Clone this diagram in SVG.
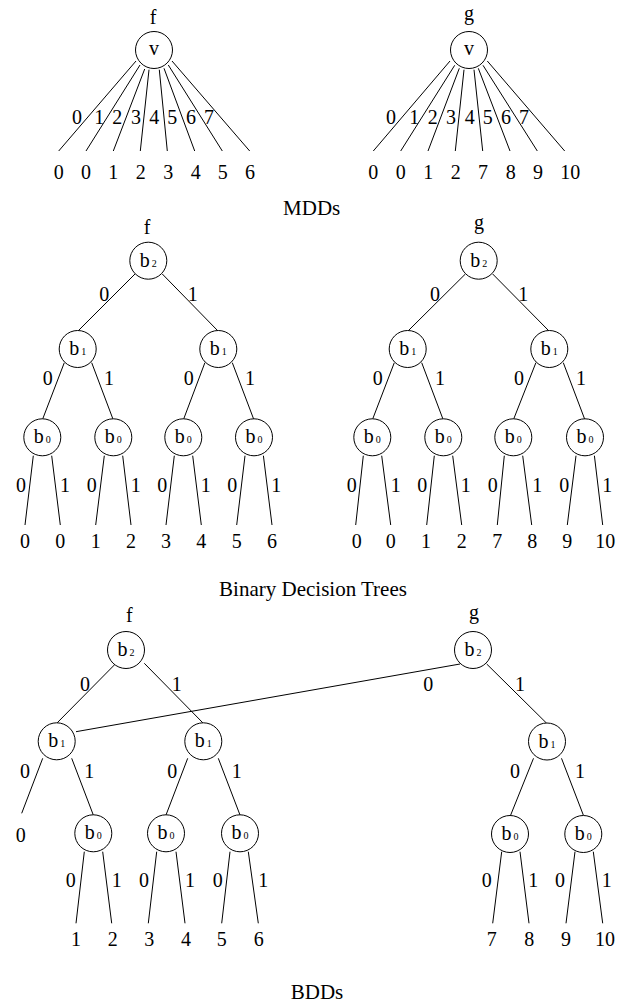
<svg xmlns="http://www.w3.org/2000/svg" width="629" height="1002" viewBox="0 0 629 1002">
<style>
text{font-family:"Liberation Serif","Times New Roman",serif;font-size:20px;fill:#000;text-anchor:middle}
.cap{font-size:21px}
.sub{font-size:10px}
.nd circle{fill:#fff;stroke:#000;stroke-width:1}
#connectors line{stroke:#000;stroke-width:1}
</style>
<rect width="629" height="1002" fill="#fff"/>
<g id="connectors">
<!-- MDD f -->
<line x1="136" y1="61" x2="58.7" y2="151"/>
<line x1="140" y1="65" x2="86" y2="151"/>
<line x1="144.7" y1="69" x2="113.3" y2="151"/>
<line x1="149" y1="69.7" x2="140.3" y2="151"/>
<line x1="159.3" y1="69.7" x2="167.3" y2="151"/>
<line x1="164" y1="68.3" x2="194.7" y2="151"/>
<line x1="168.3" y1="65" x2="222.3" y2="151"/>
<line x1="172" y1="61" x2="249.7" y2="151"/>
<!-- MDD g -->
<line x1="450" y1="61" x2="373.3" y2="151"/>
<line x1="454.7" y1="65.3" x2="400.7" y2="151"/>
<line x1="459.3" y1="68.3" x2="428" y2="151"/>
<line x1="464" y1="69.7" x2="455.3" y2="151"/>
<line x1="474" y1="69.7" x2="482.7" y2="151"/>
<line x1="478.3" y1="68.3" x2="510" y2="151"/>
<line x1="483" y1="65.3" x2="537.3" y2="151"/>
<line x1="487.3" y1="61" x2="564.7" y2="151"/>
<!-- BDT f -->
<line x1="135" y1="274" x2="77.7" y2="331.3"/>
<line x1="162.3" y1="274" x2="218.3" y2="331.3"/>
<line x1="64.3" y1="362.7" x2="42.3" y2="420"/>
<line x1="91.7" y1="362.7" x2="113.3" y2="420"/>
<line x1="204.9" y1="362.7" x2="183.3" y2="420"/>
<line x1="232.3" y1="362.7" x2="254" y2="420"/>
<line x1="33.3" y1="455.7" x2="25" y2="525"/>
<line x1="51.7" y1="455.7" x2="60.3" y2="525"/>
<line x1="104.3" y1="455.7" x2="95.7" y2="525"/>
<line x1="122.7" y1="455.7" x2="131" y2="525"/>
<line x1="174.3" y1="455.7" x2="166" y2="525"/>
<line x1="192.7" y1="455.7" x2="201.3" y2="525"/>
<line x1="245" y1="455.7" x2="236.7" y2="525"/>
<line x1="263.4" y1="455.7" x2="272" y2="525"/>
<!-- BDT g -->
<line x1="465.4" y1="274" x2="407.7" y2="331.3"/>
<line x1="492.7" y1="274" x2="549.3" y2="331.3"/>
<line x1="394.3" y1="362.7" x2="372.3" y2="420"/>
<line x1="421.7" y1="362.7" x2="443.3" y2="420"/>
<line x1="535.9" y1="362.7" x2="513.3" y2="420"/>
<line x1="563.3" y1="362.7" x2="585" y2="420"/>
<line x1="363.3" y1="455.7" x2="355.7" y2="525"/>
<line x1="381.7" y1="455.7" x2="390.7" y2="525"/>
<line x1="434.3" y1="455.7" x2="426.7" y2="525"/>
<line x1="452.7" y1="455.7" x2="461.7" y2="525"/>
<line x1="504.3" y1="455.7" x2="497.3" y2="525"/>
<line x1="522.7" y1="455.7" x2="531.7" y2="525"/>
<line x1="576" y1="455.7" x2="567.3" y2="525"/>
<line x1="594.4" y1="455.7" x2="602.7" y2="525"/>
<!-- BDD f -->
<line x1="116" y1="663.3" x2="56.7" y2="723.3"/>
<line x1="144.3" y1="663.3" x2="203.3" y2="723.3"/>
<line x1="42.7" y1="758.3" x2="21.7" y2="813.3"/>
<line x1="71.7" y1="758.3" x2="93.3" y2="815"/>
<line x1="187.7" y1="758.3" x2="166" y2="815"/>
<line x1="218.3" y1="758.3" x2="240" y2="815"/>
<line x1="84.3" y1="851.7" x2="76" y2="923.3"/>
<line x1="102.7" y1="851.7" x2="111.7" y2="923.3"/>
<line x1="156.7" y1="851.7" x2="148.3" y2="923.3"/>
<line x1="176" y1="851.7" x2="185" y2="923.3"/>
<line x1="230" y1="851.7" x2="221.7" y2="923.3"/>
<line x1="248.3" y1="851.7" x2="258.3" y2="923.3"/>
<!-- BDD g -->
<line x1="460" y1="664" x2="76" y2="731.7"/>
<line x1="486.7" y1="664" x2="546.7" y2="723.3"/>
<line x1="533.5" y1="758.3" x2="510.7" y2="815"/>
<line x1="561.5" y1="758.3" x2="583.3" y2="815"/>
<line x1="501.7" y1="851.7" x2="492.7" y2="923.3"/>
<line x1="520" y1="851.7" x2="529" y2="923.3"/>
<line x1="575" y1="851.7" x2="566" y2="923.3"/>
<line x1="593.3" y1="851.7" x2="602.7" y2="923.3"/>
</g>
<g id="edge-labels">
<!-- MDD f -->
<text x="77" y="124">0</text><text x="99.3" y="124">1</text><text x="117.3" y="124">2</text><text x="136" y="124">3</text>
<text x="154.3" y="124">4</text><text x="172.3" y="124">5</text><text x="191" y="124">6</text><text x="209" y="124">7</text>
<!-- MDD g -->
<text x="391" y="124">0</text><text x="414.3" y="124">1</text><text x="432.7" y="124">2</text><text x="451" y="124">3</text>
<text x="469.7" y="124">4</text><text x="487.7" y="124">5</text><text x="506" y="124">6</text><text x="524" y="124">7</text>
<!-- BDT f -->
<text x="104.3" y="300.7">0</text><text x="192.7" y="300.7">1</text>
<text x="47.7" y="385">0</text><text x="109" y="385">1</text><text x="188.7" y="385">0</text><text x="250" y="385">1</text>
<text x="21" y="491.7">0</text><text x="65" y="491.7">1</text><text x="91.7" y="491.7">0</text><text x="135.7" y="491.7">1</text>
<text x="162.3" y="491.7">0</text><text x="205.7" y="491.7">1</text><text x="232.3" y="491.7">0</text><text x="276.3" y="491.7">1</text>
<!-- BDT g -->
<text x="435" y="300.7">0</text><text x="523.3" y="300.7">1</text>
<text x="377.7" y="385">0</text><text x="440" y="385">1</text><text x="519" y="385">0</text><text x="581" y="385">1</text>
<text x="351.7" y="491.7">0</text><text x="395.7" y="491.7">1</text><text x="422.3" y="491.7">0</text><text x="465.7" y="491.7">1</text>
<text x="492.7" y="491.7">0</text><text x="537.3" y="491.7">1</text><text x="564.3" y="491.7">0</text><text x="607.3" y="491.7">1</text>
<!-- BDD f -->
<text x="85" y="691">0</text><text x="176.7" y="691">1</text>
<text x="25" y="777.7">0</text><text x="89.3" y="777.7">1</text><text x="172.3" y="777.7">0</text><text x="236.7" y="777.7">1</text>
<text x="70.7" y="887.3">0</text><text x="116.7" y="887.3">1</text><text x="144" y="887.3">0</text><text x="190" y="887.3">1</text>
<text x="217.7" y="887.3">0</text><text x="263.3" y="887.3">1</text>
<!-- BDD g -->
<text x="428.3" y="691">0</text><text x="520" y="691">1</text>
<text x="515" y="777.7">0</text><text x="580" y="777.7">1</text>
<text x="486.7" y="887.3">0</text><text x="533.3" y="887.3">1</text><text x="560" y="887.3">0</text><text x="606.7" y="887.3">1</text>
</g>
<!-- MDD nodes -->
<g id="mdd-f-v" class="nd"><circle cx="154" cy="50" r="18.5"/><text x="154" y="55">v</text></g>
<g id="mdd-g-v" class="nd"><circle cx="469" cy="50" r="18.5"/><text x="469" y="55">v</text></g>
<g id="mdd-f-leaves">
<text x="58.7" y="179.3">0</text><text x="86" y="179.3">0</text><text x="113.3" y="179.3">1</text><text x="140.7" y="179.3">2</text>
<text x="168.3" y="179.3">3</text><text x="195.7" y="179.3">4</text><text x="222.7" y="179.3">5</text><text x="250" y="179.3">6</text>
</g>
<g id="mdd-g-leaves">
<text x="373.3" y="179.3">0</text><text x="400.7" y="179.3">0</text><text x="428.3" y="179.3">1</text><text x="455.7" y="179.3">2</text>
<text x="483" y="179.3">7</text><text x="510.7" y="179.3">8</text><text x="538" y="179.3">9</text><text x="570.3" y="179.3">10</text>
</g>
<!-- BDT nodes -->
<g id="bdt-f-b2" class="nd"><circle cx="148.3" cy="260.7" r="18.5"/><text x="148.3" y="266.7">b<tspan class="sub" dx="2">2</tspan></text></g>
<g id="bdt-f-b1a" class="nd"><circle cx="77.7" cy="349" r="18.5"/><text x="77.7" y="355">b<tspan class="sub" dx="2">1</tspan></text></g>
<g id="bdt-f-b1b" class="nd"><circle cx="218.3" cy="349" r="18.5"/><text x="218.3" y="355">b<tspan class="sub" dx="2">1</tspan></text></g>
<g id="bdt-f-b0a" class="nd"><circle cx="42.3" cy="437.3" r="18.5"/><text x="42.3" y="443.3">b<tspan class="sub" dx="2">0</tspan></text></g>
<g id="bdt-f-b0b" class="nd"><circle cx="113.3" cy="437.3" r="18.5"/><text x="113.3" y="443.3">b<tspan class="sub" dx="2">0</tspan></text></g>
<g id="bdt-f-b0c" class="nd"><circle cx="183.3" cy="437.3" r="18.5"/><text x="183.3" y="443.3">b<tspan class="sub" dx="2">0</tspan></text></g>
<g id="bdt-f-b0d" class="nd"><circle cx="254" cy="437.3" r="18.5"/><text x="254" y="443.3">b<tspan class="sub" dx="2">0</tspan></text></g>
<g id="bdt-g-b2" class="nd"><circle cx="478.7" cy="260.7" r="18.5"/><text x="478.7" y="266.7">b<tspan class="sub" dx="2">2</tspan></text></g>
<g id="bdt-g-b1a" class="nd"><circle cx="407.7" cy="349" r="18.5"/><text x="407.7" y="355">b<tspan class="sub" dx="2">1</tspan></text></g>
<g id="bdt-g-b1b" class="nd"><circle cx="549.3" cy="349" r="18.5"/><text x="549.3" y="355">b<tspan class="sub" dx="2">1</tspan></text></g>
<g id="bdt-g-b0a" class="nd"><circle cx="372.3" cy="437.3" r="18.5"/><text x="372.3" y="443.3">b<tspan class="sub" dx="2">0</tspan></text></g>
<g id="bdt-g-b0b" class="nd"><circle cx="443.3" cy="437.3" r="18.5"/><text x="443.3" y="443.3">b<tspan class="sub" dx="2">0</tspan></text></g>
<g id="bdt-g-b0c" class="nd"><circle cx="513.3" cy="437.3" r="18.5"/><text x="513.3" y="443.3">b<tspan class="sub" dx="2">0</tspan></text></g>
<g id="bdt-g-b0d" class="nd"><circle cx="585" cy="437.3" r="18.5"/><text x="585" y="443.3">b<tspan class="sub" dx="2">0</tspan></text></g>
<g id="bdt-f-leaves">
<text x="25" y="548.3">0</text><text x="60.3" y="548.3">0</text><text x="95.7" y="548.3">1</text><text x="131" y="548.3">2</text>
<text x="166" y="548.3">3</text><text x="201.3" y="548.3">4</text><text x="236.7" y="548.3">5</text><text x="272" y="548.3">6</text>
</g>
<g id="bdt-g-leaves">
<text x="356.7" y="548.3">0</text><text x="390.7" y="548.3">0</text><text x="426" y="548.3">1</text><text x="461.7" y="548.3">2</text>
<text x="497.3" y="548.3">7</text><text x="532.3" y="548.3">8</text><text x="567.3" y="548.3">9</text><text x="605.3" y="548.3">10</text>
</g>
<!-- BDD nodes -->
<g id="bdd-f-b2" class="nd"><circle cx="126" cy="650" r="18.5"/><text x="126" y="656">b<tspan class="sub" dx="2">2</tspan></text></g>
<g id="bdd-f-b1a" class="nd"><circle cx="56.7" cy="741.3" r="18.5"/><text x="56.7" y="747.3">b<tspan class="sub" dx="2">1</tspan></text></g>
<g id="bdd-f-b1b" class="nd"><circle cx="203.3" cy="741.3" r="18.5"/><text x="203.3" y="747.3">b<tspan class="sub" dx="2">1</tspan></text></g>
<g id="bdd-f-b0a" class="nd"><circle cx="93.3" cy="833.3" r="18.5"/><text x="93.3" y="839.3">b<tspan class="sub" dx="2">0</tspan></text></g>
<g id="bdd-f-b0b" class="nd"><circle cx="166" cy="833.3" r="18.5"/><text x="166" y="839.3">b<tspan class="sub" dx="2">0</tspan></text></g>
<g id="bdd-f-b0c" class="nd"><circle cx="240" cy="833.3" r="18.5"/><text x="240" y="839.3">b<tspan class="sub" dx="2">0</tspan></text></g>
<g id="bdd-g-b2" class="nd"><circle cx="473" cy="650" r="18.5"/><text x="473" y="656">b<tspan class="sub" dx="2">2</tspan></text></g>
<g id="bdd-g-b1" class="nd"><circle cx="547" cy="741.5" r="18.5"/><text x="547" y="747.5">b<tspan class="sub" dx="2">1</tspan></text></g>
<g id="bdd-g-b0a" class="nd"><circle cx="510" cy="834" r="18.5"/><text x="510" y="840">b<tspan class="sub" dx="2">0</tspan></text></g>
<g id="bdd-g-b0b" class="nd"><circle cx="583.3" cy="834" r="18.5"/><text x="583.3" y="840">b<tspan class="sub" dx="2">0</tspan></text></g>
<g id="bdd-f-leaves">
<text x="20.7" y="841.7">0</text>
<text x="76" y="946">1</text><text x="112.7" y="946">2</text><text x="149.3" y="946">3</text>
<text x="186" y="946">4</text><text x="221.7" y="946">5</text><text x="258.7" y="946">6</text>
</g>
<g id="bdd-g-leaves">
<text x="491.7" y="946">7</text><text x="529.3" y="946">8</text><text x="566" y="946">9</text><text x="605" y="946">10</text>
</g>
<g id="titles">
<text x="153" y="23.5">f</text><text x="469" y="20">g</text>
<text x="147" y="233.5">f</text><text x="479" y="229">g</text>
<text x="129.3" y="621.7">f</text><text x="474" y="619">g</text>
<text class="cap" x="311.7" y="215">MDDs</text>
<text class="cap" x="313" y="596">Binary Decision Trees</text>
<text class="cap" x="317" y="999">BDDs</text>
</g>
</svg>
